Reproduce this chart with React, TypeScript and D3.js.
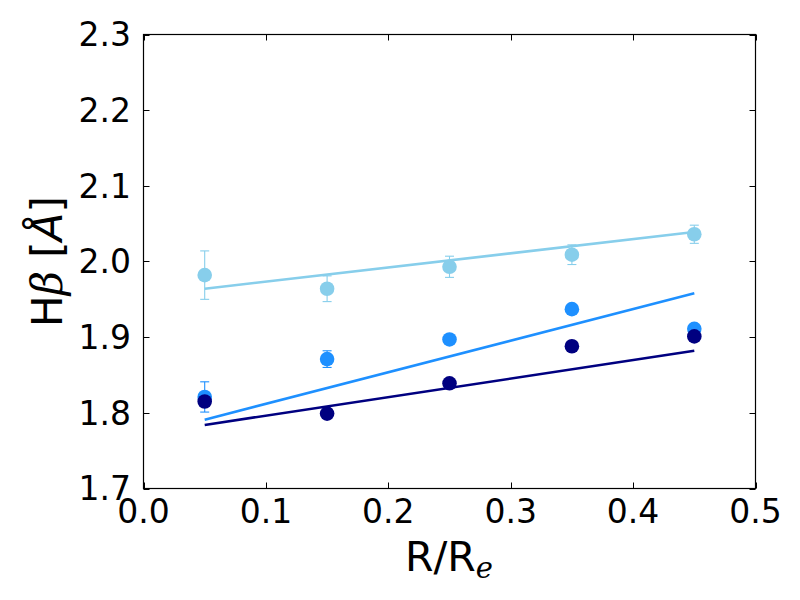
import { useRef, useEffect } from 'react';
import * as d3 from 'd3';

const RADII = [0.05, 0.15, 0.25, 0.35, 0.45];

const SKY_VALUES = [1.982, 1.964, 1.993, 2.009, 2.036];
const SKY_ERRORS = [0.032, 0.017, 0.014, 0.013, 0.012];
const SKY_FIT = [1.964, 2.039];

const DODGER_VALUES = [1.821, 1.871, 1.897, 1.937, 1.911];
const DODGER_ERRORS = [0.02, 0.011, 0.005, 0.005, 0.005];
const DODGER_FIT = [1.791, 1.958];

const NAVY_VALUES = [1.815, 1.799, 1.839, 1.888, 1.901];
const NAVY_ERRORS = [0.004, 0.004, 0.004, 0.004, 0.004];
const NAVY_FIT = [1.784, 1.882];

const X_TICKS = [0, 0.1, 0.2, 0.3, 0.4, 0.5];
const Y_TICKS = [1.7, 1.8, 1.9, 2.0, 2.1, 2.2, 2.3];

const SERIES = [
  { color: '#87ceeb', values: SKY_VALUES, errors: SKY_ERRORS, fit: SKY_FIT },
  { color: '#1e90ff', values: DODGER_VALUES, errors: DODGER_ERRORS, fit: DODGER_FIT },
  { color: '#000080', values: NAVY_VALUES, errors: NAVY_ERRORS, fit: NAVY_FIT },
];

const FONT = "'DejaVu Sans', sans-serif";
const MATH_FONT = "'DejaVu Serif', serif";

export default function App() {
  const svgRef = useRef<SVGSVGElement>(null);

  useEffect(() => {
    if (!svgRef.current) return;
    const svg = d3.select(svgRef.current);
    svg.selectAll('*').remove();

    const left = 143.5;
    const right = 755.5;
    const top = 34.5;
    const bottom = 488.5;

    const x = d3.scaleLinear().domain([0, 0.5]).range([left, right]);
    const y = d3.scaleLinear().domain([1.7, 2.3]).range([bottom, top]);

    svg.append('rect').attr('width', 800).attr('height', 600).attr('fill', '#ffffff');

    const plot = svg.append('g');

    for (const s of SERIES) {
      // fit line between first and last radius
      const line = d3
        .line<number>()
        .x((_, i) => x(i === 0 ? RADII[0] : RADII[RADII.length - 1]))
        .y((d) => y(d));
      plot
        .append('path')
        .attr('d', line(s.fit))
        .attr('fill', 'none')
        .attr('stroke', s.color)
        .attr('stroke-width', 2.6);

      // error bars
      RADII.forEach((r, i) => {
        const cx = x(r);
        const y0 = y(s.values[i] - s.errors[i]);
        const y1 = y(s.values[i] + s.errors[i]);
        plot.append('line')
          .attr('x1', cx).attr('x2', cx).attr('y1', y0).attr('y2', y1)
          .attr('stroke', s.color).attr('stroke-width', 1.1);
        for (const yy of [y0, y1]) {
          plot.append('line')
            .attr('x1', cx - 4.5).attr('x2', cx + 4.5).attr('y1', yy).attr('y2', yy)
            .attr('stroke', s.color).attr('stroke-width', 1.1);
        }
      });

      // markers
      plot
        .selectAll(null)
        .data(s.values)
        .enter()
        .append('circle')
        .attr('cx', (_, i) => x(RADII[i]))
        .attr('cy', (d) => y(d))
        .attr('r', 7.3)
        .attr('fill', s.color);
    }

    // frame
    svg.append('rect')
      .attr('x', left).attr('y', top)
      .attr('width', right - left).attr('height', bottom - top)
      .attr('fill', 'none').attr('stroke', '#000').attr('stroke-width', 1.2);

    const tickLen = 6;
    for (const t of X_TICKS) {
      const px = Math.round(x(t)) + 0.5;
      svg.append('line').attr('x1', px).attr('x2', px).attr('y1', bottom).attr('y2', bottom - tickLen)
        .attr('stroke', '#000').attr('stroke-width', 1);
      svg.append('line').attr('x1', px).attr('x2', px).attr('y1', top).attr('y2', top + tickLen)
        .attr('stroke', '#000').attr('stroke-width', 1);
      svg.append('text')
        .attr('x', x(t)).attr('y', 523)
        .attr('text-anchor', 'middle')
        .attr('font-family', FONT).attr('font-size', 33)
        .text(d3.format('.1f')(t));
    }
    for (const t of Y_TICKS) {
      const py = Math.round(y(t)) + 0.5;
      svg.append('line').attr('x1', left).attr('x2', left + tickLen).attr('y1', py).attr('y2', py)
        .attr('stroke', '#000').attr('stroke-width', 1);
      svg.append('line').attr('x1', right).attr('x2', right - tickLen).attr('y1', py).attr('y2', py)
        .attr('stroke', '#000').attr('stroke-width', 1);
      svg.append('text')
        .attr('x', 131).attr('y', y(t))
        .attr('dy', '0.36em')
        .attr('text-anchor', 'end')
        .attr('font-family', FONT).attr('font-size', 33)
        .text(d3.format('.1f')(t));
    }

    // x label
    const xl = svg.append('text')
      .attr('x', 449).attr('y', 571)
      .attr('text-anchor', 'middle')
      .attr('font-family', FONT).attr('font-size', 41);
    xl.append('tspan').text('R/R');
    xl.append('tspan')
      .attr('font-family', MATH_FONT).attr('font-style', 'italic')
      .attr('font-size', 29).attr('dy', 7).text('e');

    // y label
    const yl = svg.append('text')
      .attr('transform', `translate(62, ${(top + bottom) / 2}) rotate(-90)`)
      .attr('text-anchor', 'middle')
      .attr('font-family', FONT).attr('font-size', 42);
    yl.append('tspan').text('H');
    yl.append('tspan').attr('font-family', MATH_FONT).attr('font-style', 'italic').text('β');
    yl.append('tspan').text(' [');
    yl.append('tspan').attr('font-style', 'italic').text('Å');
    yl.append('tspan').text(']');
  }, []);

  return (
    <div style={{ position: 'absolute', left: 0, top: 0 }}>
      <svg ref={svgRef} width={800} height={600} style={{ display: 'block' }} />
    </div>
  );
}
